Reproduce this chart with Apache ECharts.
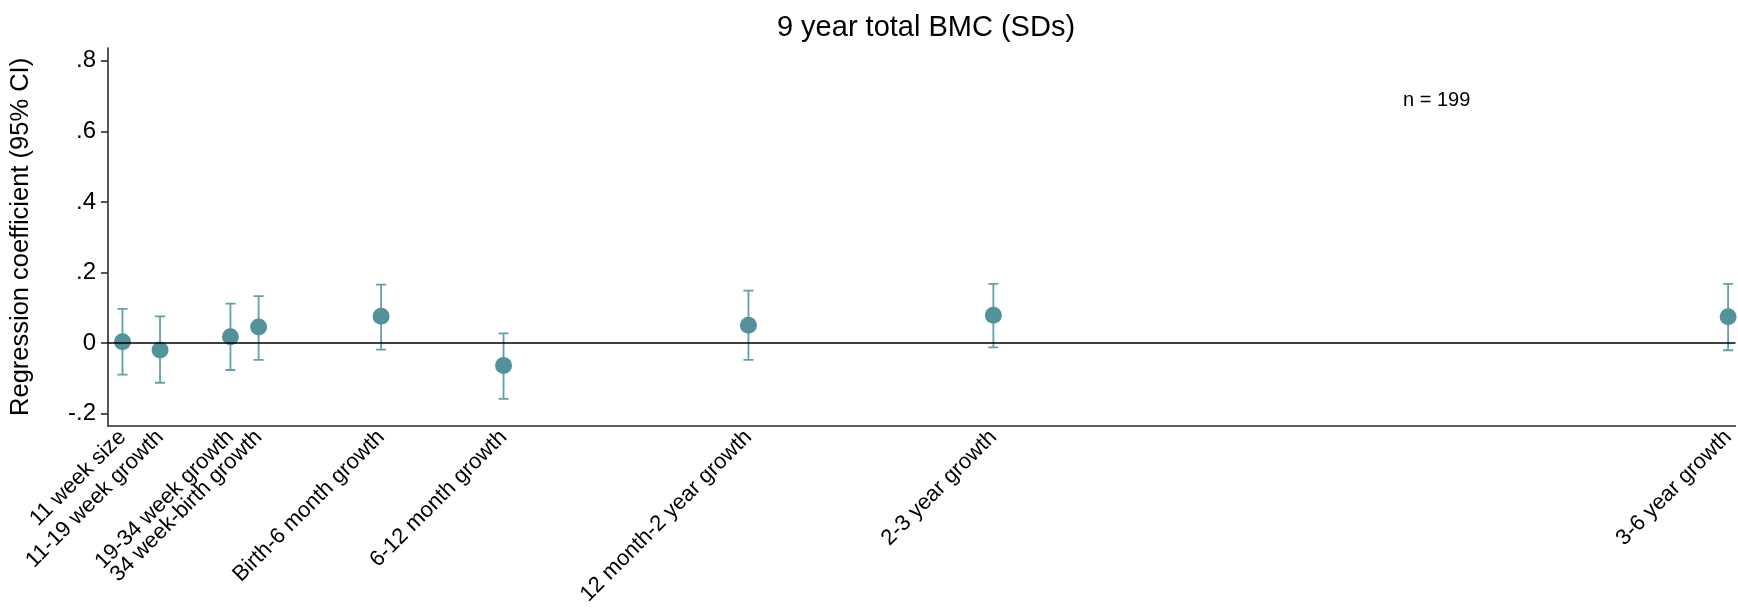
<!DOCTYPE html>
<html>
<head>
<meta charset="utf-8">
<title>9 year total BMC (SDs)</title>
<script src="https://cdn.jsdelivr.net/npm/echarts@6/dist/echarts.min.js"></script>
<style>
  html, body { margin: 0; padding: 0; background: #ffffff; }
  #chart { width: 1738px; height: 608px; }
</style>
</head>
<body>
<div id="chart"></div>
<script>
// Growth periods, placed at the end of each period (months relative to birth)
const periods = [
  '11 week size', '11-19 week growth', '19-34 week growth', '34 week-birth growth',
  'Birth-6 month growth', '6-12 month growth', '12 month-2 year growth',
  '2-3 year growth', '3-6 year growth'
];
const timepoints = [-6.67, -4.83, -1.38, 0, 6, 12, 24, 36, 72];

// Regression coefficients with 95% confidence limits
const coef  = [0.004, -0.019, 0.018, 0.046, 0.076, -0.063, 0.051, 0.079, 0.075];
const lower = [-0.089, -0.112, -0.076, -0.047, -0.018, -0.158, -0.047, -0.012, -0.020];
const upper = [0.097, 0.076, 0.112, 0.133, 0.166, 0.028, 0.149, 0.168, 0.168];

const yTicks = [-0.2, 0, 0.2, 0.4, 0.6, 0.8];
const sampleNote = 'n = 199';

const FONT = '"Liberation Sans", Arial, Helvetica, sans-serif';
const DOT = '#53929b';
const BAR = '#62a0a8';
const AXIS = '#2b2b2b';

function fmtY(v) {
  const r = Math.round(v * 10) / 10;
  if (r === 0) return '0';
  return String(r).replace('0.', '.');
}

const pointData = timepoints.map((t, i) => [t, coef[i]]);
const ciData = timepoints.map((t, i) => [t, lower[i], upper[i]]);

const chart = echarts.init(document.getElementById('chart'), null, { renderer: 'canvas' });

chart.setOption({
  animation: false,
  backgroundColor: '#ffffff',
  title: {
    text: '9 year total BMC (SDs)',
    left: 921, textAlign: 'center', top: 8,
    textStyle: { fontFamily: FONT, fontSize: 29, fontWeight: 'normal', color: '#000' }
  },
  grid: { left: 105, right: 0, top: 48, bottom: 164, containLabel: false },
  xAxis: {
    type: 'value',
    min: -7.38, max: 72.36,
    splitLine: { show: false },
    axisTick: { show: false },
    axisLine: { show: true, onZero: false, lineStyle: { color: AXIS, width: 1.6 } },
    axisLabel: {
      customValues: timepoints,
      rotate: 45,
      margin: 8,
      fontFamily: FONT, fontSize: 22, color: '#000',
      formatter: v => {
        const i = timepoints.findIndex(t => Math.abs(t - v) < 1e-6);
        return i >= 0 ? periods[i] : '';
      }
    }
  },
  yAxis: {
    type: 'value',
    min: -0.234, max: 0.836,
    name: 'Regression coefficient (95% CI)',
    nameLocation: 'middle',
    nameGap: 74,
    nameTextStyle: { fontFamily: FONT, fontSize: 25.5, color: '#000' },
    splitLine: { show: false },
    axisLine: { show: true, onZero: false, lineStyle: { color: AXIS, width: 1.6 } },
    axisTick: { show: true, customValues: yTicks, length: 7, lineStyle: { color: AXIS, width: 1.6 } },
    axisLabel: {
      customValues: yTicks,
      margin: 12,
      fontFamily: FONT, fontSize: 24, color: '#000',
      formatter: fmtY
    }
  },
  graphic: [{
    type: 'text',
    left: 1403, top: 90,
    style: { text: sampleNote, fontFamily: FONT, fontSize: 20, fill: '#000' }
  }],
  series: [
    {
      // 95% confidence intervals drawn as capped vertical whiskers
      type: 'custom',
      data: ciData,
      encode: { x: 0, y: [1, 2] },
      clip: true,
      z: 2,
      renderItem: (params, api) => {
        const x = api.value(0);
        const lo = api.coord([x, api.value(1)]);
        const hi = api.coord([x, api.value(2)]);
        const cap = 5;
        const style = { stroke: BAR, lineWidth: 1.8, fill: null };
        return {
          type: 'group',
          children: [
            { type: 'line', shape: { x1: lo[0], y1: lo[1], x2: hi[0], y2: hi[1] }, style },
            { type: 'line', shape: { x1: hi[0] - cap, y1: hi[1], x2: hi[0] + cap, y2: hi[1] }, style },
            { type: 'line', shape: { x1: lo[0] - cap, y1: lo[1], x2: lo[0] + cap, y2: lo[1] }, style }
          ]
        };
      }
    },
    {
      type: 'scatter',
      data: pointData,
      symbol: 'circle',
      symbolSize: 17,
      itemStyle: { color: DOT, opacity: 1 },
      z: 3,
      markLine: {
        silent: true,
        symbol: ['none', 'none'],
        label: { show: false },
        lineStyle: { color: '#000', width: 1.6, type: 'solid' },
        data: [{ yAxis: 0 }]
      }
    }
  ]
});
</script>
</body>
</html>
